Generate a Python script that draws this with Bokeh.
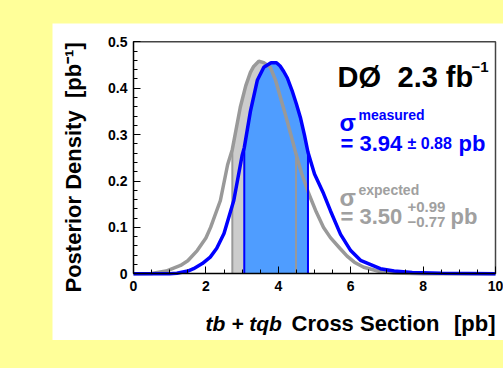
import numpy as np
from bokeh.plotting import figure
from bokeh.models import Range1d, SingleIntervalTicker, Label, Spacer
from bokeh.layouts import row, column
from bokeh.embed import file_html
from bokeh.resources import INLINE

# ---- data ----
exp_x = [0.0, 0.5, 0.9, 1.3, 1.5, 1.76, 2.0, 2.13, 2.4, 2.6, 2.73, 2.95, 3.1, 3.23, 3.32, 3.46,
         3.6, 3.78, 3.92, 4.06, 4.2, 4.34, 4.49, 4.65, 4.84, 5.05, 5.25, 5.44, 5.7, 5.9, 6.1,
         6.36, 6.8, 7.2, 8.0, 10.0]
exp_y = [0.0, 0.0005, 0.006, 0.018, 0.028, 0.050, 0.077, 0.100, 0.158, 0.235, 0.268, 0.359, 0.405,
         0.434, 0.447, 0.458, 0.455, 0.445, 0.418, 0.380, 0.342, 0.302, 0.258, 0.215, 0.173, 0.133,
         0.100, 0.078, 0.055, 0.038, 0.025, 0.014, 0.005, 0.0015, 0.0002, 0.0]

meas_x = [0.0, 1.0, 1.2, 1.5, 1.66, 1.9, 2.12, 2.3, 2.5, 2.77, 3.0, 3.06, 3.23, 3.42, 3.6, 3.8,
          3.95, 4.05, 4.15, 4.25, 4.38, 4.5, 4.61, 4.72, 4.82, 5.0, 5.25, 5.44, 5.72, 6.0, 6.27,
          6.82, 7.2, 7.7, 8.5, 10.0]
meas_y = [0.0, 0.0003, 0.001, 0.006, 0.011, 0.022, 0.036, 0.055, 0.087, 0.158, 0.255, 0.272,
          0.350, 0.417, 0.445, 0.455, 0.455, 0.448, 0.436, 0.422, 0.395, 0.366, 0.337, 0.300,
          0.262, 0.215, 0.173, 0.136, 0.085, 0.050, 0.029, 0.011, 0.006, 0.003, 0.001, 0.0]

exp_central, exp_plus, exp_minus = 3.50, 0.99, 0.77
meas_central, meas_err = 3.94, 0.88

x_axis_min, x_axis_max = 0.0, 10.0
y_axis_min, y_axis_max = 0.0, 0.5
x_ticks_interval = 2
y_ticks_interval = 0.1

FONT = "Liberation Sans"
BLUE = "#0000ff"
GRAY_TXT = "#a0a0a0"

# page-pixel -> data mapping of the ROOT frame (0..10 spans px 133..495, 0..0.5 spans py 273.3..41)
def fx(px):
    return (px - 133) / 36.2

def fy(py):
    return (273.3 - py) / 464.0

# white panel spans page px 52..503, py 23..340
W, H = 451, 317
p = figure(width=W, height=H, output_backend="svg", toolbar_location=None,
           x_range=Range1d(fx(52), fx(503)), y_range=Range1d(fy(340), fy(23)),
           min_border=0)
p.min_border_left = 0
p.min_border_right = 0
p.min_border_top = 0
p.min_border_bottom = 0
p.background_fill_color = "white"
p.border_fill_color = "white"
p.outline_line_color = None
p.xgrid.visible = False
p.ygrid.visible = False

p.xaxis.fixed_location = y_axis_min
p.yaxis.fixed_location = x_axis_min
p.xaxis.bounds = (x_axis_min, x_axis_max)
p.yaxis.bounds = (y_axis_min, y_axis_max)
p.xaxis.ticker = SingleIntervalTicker(interval=x_ticks_interval, num_minor_ticks=4)
p.yaxis.ticker = SingleIntervalTicker(interval=y_ticks_interval, num_minor_ticks=5)
p.yaxis.major_label_overrides = {0: "0", 0.1: "0.1", 0.2: "0.2", 0.3: "0.3", 0.4: "0.4", 0.5: "0.5"}
for ax in (p.xaxis, p.yaxis):
    ax.axis_line_color = "black"
    ax.axis_line_width = 1.5
    ax.major_tick_in = 7
    ax.major_tick_out = 0
    ax.minor_tick_in = 4
    ax.minor_tick_out = 0
    ax.major_tick_line_color = "black"
    ax.minor_tick_line_color = "black"
    ax.major_label_text_font = FONT
    ax.major_label_text_font_style = "bold"
    ax.major_label_text_font_size = "14px"
    ax.major_label_text_color = "black"
p.yaxis.major_label_standoff = 6
p.xaxis.major_label_standoff = 7

# frame top/right edges
p.line(x=[x_axis_min, x_axis_max, x_axis_max], y=[y_axis_max, y_axis_max, y_axis_min],
       line_color="#444444", line_width=1.5)

# ---- bands ----
ex = np.array(exp_x); ey = np.array(exp_y)
mx = np.array(meas_x); my = np.array(meas_y)
e_lo, e_hi = round(exp_central - exp_minus, 2), round(exp_central + exp_plus, 2)
m_lo, m_hi = round(meas_central - meas_err, 2), round(meas_central + meas_err, 2)
emask = (ex >= e_lo - 1e-9) & (ex <= e_hi + 1e-9)
mmask = (mx >= m_lo - 1e-9) & (mx <= m_hi + 1e-9)

p.varea(x=ex[emask], y1=0, y2=ey[emask], fill_color="#cccccc")
p.varea(x=mx[mmask], y1=0, y2=my[mmask], fill_color="#4f9dff")

p.line(ex, ey, line_color="#999999", line_width=3.5)
ei = np.where(emask)[0]
p.segment(x0=ex[[ei[0], ei[-1]]], y0=[0, 0], x1=ex[[ei[0], ei[-1]]], y1=ey[[ei[0], ei[-1]]],
          line_color="#999999", line_width=2)

p.line(mx, my, line_color=BLUE, line_width=3.5)
mi = np.where(mmask)[0]
p.segment(x0=mx[[mi[0], mi[-1]]], y0=[0, 0], x1=mx[[mi[0], mi[-1]]], y1=my[[mi[0], mi[-1]]],
          line_color=BLUE, line_width=2)

# ---- text annotations ----
def lab(text, px, py, size, color="black", style="bold", align="left", angle=0.0):
    p.add_layout(Label(x=fx(px), y=fy(py), text=text, text_font=FONT, text_font_style=style,
                       text_font_size=f"{size}px", text_color=color, text_align=align,
                       text_baseline="alphabetic", angle=angle))

lab("DØ", 337, 76, 29)
lab("2.3 fb", 397, 76, 29)
lab("\u22121", 471, 66, 15)

lab("σ", 339, 121.5, 24, BLUE)
lab("measured", 358, 114, 14, BLUE)
lab("= 3.94", 340, 143, 22, BLUE)
lab("± 0.88", 407, 143, 16, BLUE)
lab("pb", 458, 143, 22, BLUE)

lab("σ", 339, 196.5, 24, GRAY_TXT)
lab("expected", 358, 189, 14, GRAY_TXT)
lab("= 3.50", 340, 216, 22, GRAY_TXT)
lab("+0.99", 407, 206.5, 15, GRAY_TXT)
lab("\u22120.77", 407, 221.7, 15, GRAY_TXT)
lab("pb", 450, 216, 22, GRAY_TXT)

lab("tb + tqb", 205, 322.7, 21, style="bold italic")
lab("Cross Section", 291, 322.7, 22)
lab("[pb]", 495, 322.7, 22, align="right")

lab("Posterior Density \u00a0[pb⁻¹]", 73, 292, 22, angle=np.pi / 2)

layout = column(Spacer(height=23), row(Spacer(width=52), p))

html = file_html(layout, INLINE)
html = html.replace("<head>", "<head><style>html,body{background:#ffff99;}</style>", 1)
open("out.html", "w").write(html)
